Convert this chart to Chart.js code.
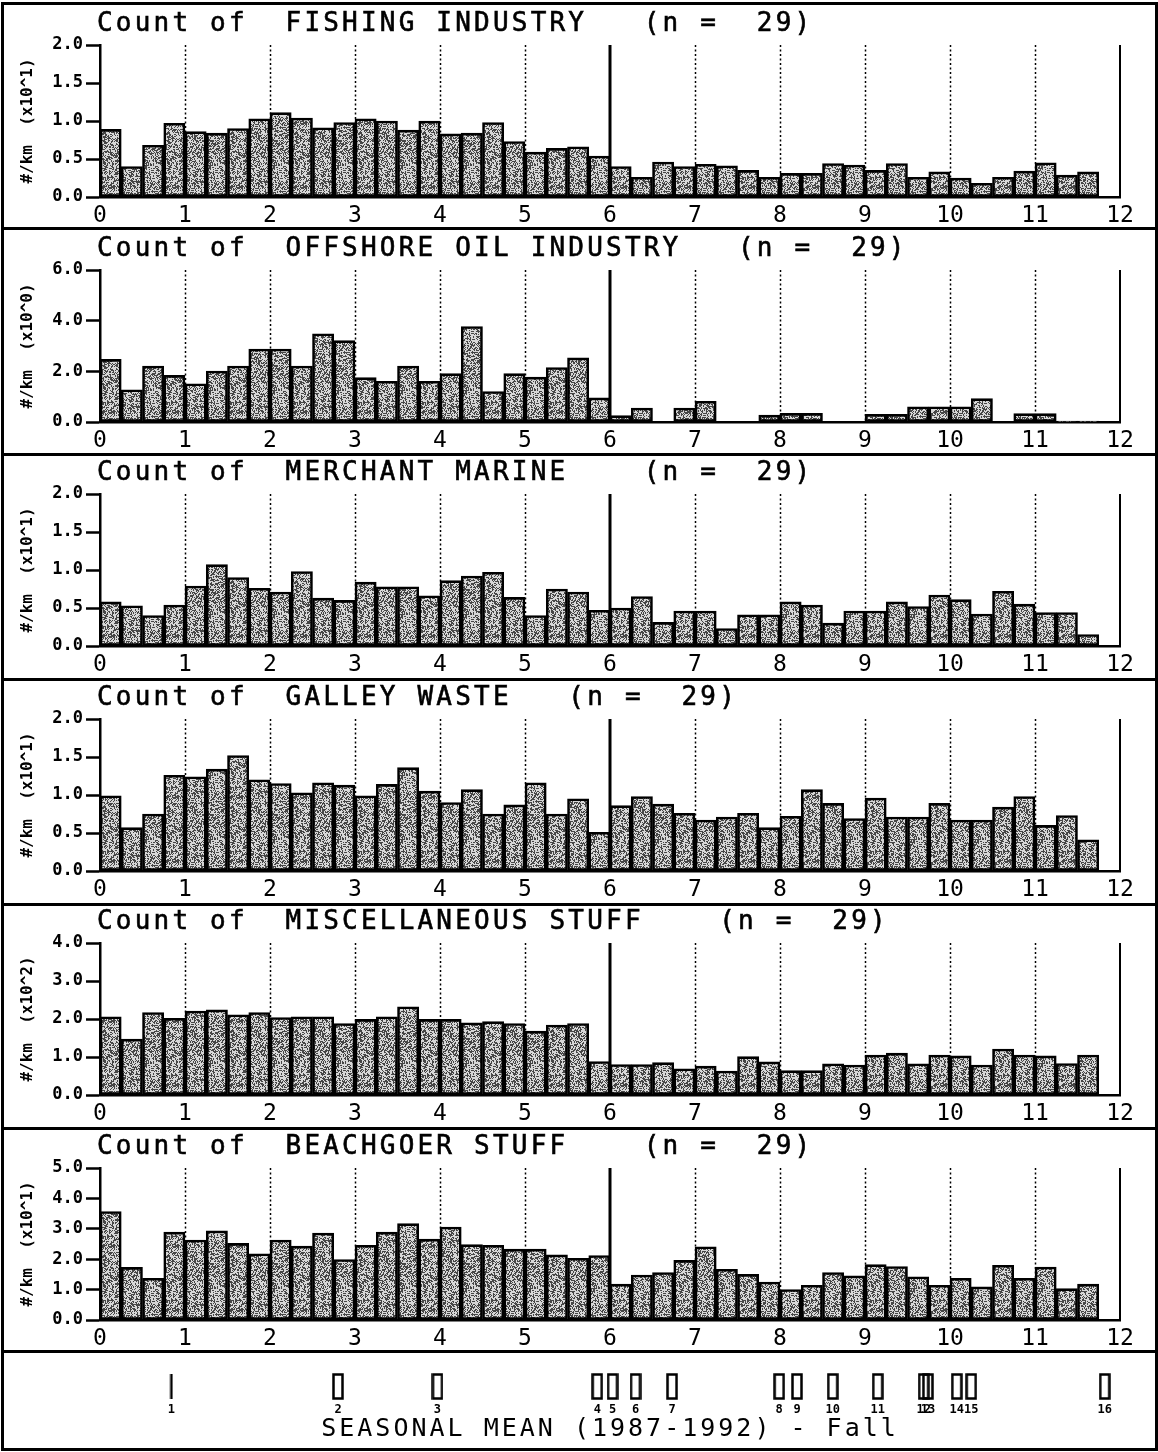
<!DOCTYPE html>
<html>
<head>
<meta charset="utf-8">
<title>Seasonal mean - Fall</title>
<script src="https://cdn.jsdelivr.net/npm/chart.js@4.4.1/dist/chart.umd.min.js"></script>
<style>
  body { margin: 0; background: #fff; }
  #page { position: relative; width: 1158px; height: 1452px; overflow: hidden; background: #fff; }
  #page canvas { position: absolute; left: 0; }
  .rule { position: absolute; left: 2px; width: 1154px; height: 3px; background: #000; z-index: 5; }
  #frame { position: absolute; left: 1px; top: 2px; width: 1151px; height: 1443px; border: 3px solid #000; z-index: 5; }
</style>
</head>
<body>
<div id="page"><div id="frame"></div></div>
<script>
// bin centres along the x axis (0.25-wide bins from 0 to 11.75)
const binCenters = [
  0.125, 0.375, 0.625, 0.875, 1.125, 1.375, 1.625, 1.875, 2.125, 2.375, 2.625, 2.875,
  3.125, 3.375, 3.625, 3.875, 4.125, 4.375, 4.625, 4.875, 5.125, 5.375, 5.625, 5.875,
  6.125, 6.375, 6.625, 6.875, 7.125, 7.375, 7.625, 7.875, 8.125, 8.375, 8.625, 8.875,
  9.125, 9.375, 9.625, 9.875, 10.125, 10.375, 10.625, 10.875, 11.125, 11.375, 11.625
];

const fishingIndustry = [
  0.89, 0.40, 0.68, 0.97, 0.86, 0.84, 0.90, 1.03, 1.11, 1.04, 0.91, 0.98,
  1.03, 1.00, 0.88, 1.00, 0.83, 0.84, 0.98, 0.73, 0.59, 0.64, 0.66, 0.54,
  0.40, 0.26, 0.46, 0.40, 0.43, 0.41, 0.35, 0.26, 0.31, 0.31, 0.44, 0.42,
  0.35, 0.44, 0.26, 0.33, 0.25, 0.18, 0.26, 0.34, 0.45, 0.29, 0.33
];
const offshoreOil = [
  2.47, 1.27, 2.21, 1.84, 1.51, 2.01, 2.21, 2.88, 2.88, 2.21, 3.48, 3.21,
  1.75, 1.61, 2.21, 1.61, 1.91, 3.77, 1.20, 1.91, 1.77, 2.15, 2.53, 0.95,
  0.25, 0.55, 0, 0.55, 0.82, 0, 0, 0.27, 0.34, 0.34, 0, 0,
  0.30, 0.30, 0.60, 0.60, 0.60, 0.92, 0, 0.33, 0.33, 0.04, 0.04
];
const merchantMarine = [
  0.58, 0.53, 0.40, 0.54, 0.79, 1.07, 0.90, 0.76, 0.71, 0.98, 0.63, 0.60,
  0.84, 0.78, 0.78, 0.66, 0.86, 0.92, 0.97, 0.64, 0.40, 0.75, 0.71, 0.47,
  0.50, 0.65, 0.31, 0.46, 0.46, 0.23, 0.41, 0.41, 0.58, 0.54, 0.30, 0.46,
  0.46, 0.58, 0.52, 0.67, 0.61, 0.42, 0.72, 0.55, 0.44, 0.44, 0.15
];
const galleyWaste = [
  0.99, 0.57, 0.75, 1.26, 1.24, 1.34, 1.52, 1.20, 1.15, 1.03, 1.16, 1.13,
  0.99, 1.14, 1.36, 1.05, 0.90, 1.07, 0.75, 0.87, 1.16, 0.75, 0.95, 0.51,
  0.86, 0.98, 0.88, 0.76, 0.67, 0.71, 0.76, 0.57, 0.72, 1.07, 0.89, 0.69,
  0.96, 0.71, 0.71, 0.89, 0.67, 0.67, 0.84, 0.98, 0.60, 0.73, 0.41
];
const miscStuff = [
  2.06, 1.47, 2.17, 2.02, 2.21, 2.24, 2.11, 2.17, 2.04, 2.06, 2.06, 1.88,
  1.99, 2.06, 2.32, 1.99, 1.99, 1.90, 1.93, 1.88, 1.68, 1.84, 1.88, 0.88,
  0.80, 0.80, 0.85, 0.69, 0.76, 0.63, 1.01, 0.87, 0.64, 0.64, 0.82, 0.79,
  1.05, 1.10, 0.82, 1.05, 1.03, 0.79, 1.21, 1.05, 1.03, 0.83, 1.05
];
const beachgoerStuff = [
  3.57, 1.73, 1.37, 2.89, 2.63, 2.93, 2.52, 2.18, 2.63, 2.43, 2.86, 1.99,
  2.46, 2.89, 3.17, 2.66, 3.06, 2.48, 2.46, 2.33, 2.33, 2.14, 2.03, 2.12,
  1.18, 1.48, 1.56, 1.96, 2.41, 1.67, 1.50, 1.25, 1.00, 1.14, 1.56, 1.45,
  1.82, 1.76, 1.42, 1.14, 1.37, 1.09, 1.80, 1.37, 1.74, 1.03, 1.18
];

const panelTitles = [
  'Count of  FISHING INDUSTRY   (n =  29)',
  'Count of  OFFSHORE OIL INDUSTRY   (n =  29)',
  'Count of  MERCHANT MARINE    (n =  29)',
  'Count of  GALLEY WASTE   (n =  29)',
  'Count of  MISCELLANEOUS STUFF    (n =  29)',
  'Count of  BEACHGOER STUFF    (n =  29)'
];
const yAxisTitles = [
  '#/km  (x10^1)', '#/km  (x10^0)', '#/km  (x10^1)',
  '#/km  (x10^1)', '#/km  (x10^2)', '#/km  (x10^1)'
];
const yMax = [2, 6, 2, 2, 4, 5];
const yStep = [0.5, 2, 0.5, 0.5, 1, 1];
const xTicks = [0, 1, 2, 3, 4, 5, 6, 7, 8, 9, 10, 11, 12];

// station markers in the bottom strip
const markerPositions = [0.84, 2.8, 3.97, 5.85, 6.03, 6.3, 6.73, 7.99, 8.2, 8.62, 9.15, 9.69, 9.74, 10.08, 10.25, 11.82];
const markerLabels = ['1', '2', '3', '4', '5', '6', '7', '8', '9', '10', '11', '12', '13', '14', '15', '16'];

const panelSeries = [fishingIndustry, offshoreOil, merchantMarine, galleyWaste, miscStuff, beachgoerStuff];

// layout
const W = 1158;
const panelTops = [0, 225, 449, 674, 898, 1123];
const panelH = 225;
const ruleTops = [227, 453, 678, 903, 1127, 1350];
const dottedAt = [1, 2, 3, 4, 5, 7, 8, 9, 10, 11];
const MONO = '"DejaVu Sans Mono", "Liberation Mono", monospace';

const page = document.getElementById('page');
ruleTops.forEach(t => {
  const d = document.createElement('div');
  d.className = 'rule';
  d.style.top = t + 'px';
  page.appendChild(d);
});

// grey stipple used to fill the bars
const tile = document.createElement('canvas');
tile.width = tile.height = 64;
(function buildTile() {
  const g = tile.getContext('2d');
  const img = g.createImageData(64, 64);
  for (let i = 0; i < 64 * 64; i++) {
    let h = Math.imul(i ^ 0x9e3779b9, 0x85ebca6b);
    h ^= h >>> 13;
    h = Math.imul(h, 0xc2b2ae35);
    h ^= h >>> 16;
    const v = ((h >>> 0) % 100) < 46 ? 70 : 215;
    img.data[i * 4] = img.data[i * 4 + 1] = img.data[i * 4 + 2] = v;
    img.data[i * 4 + 3] = 255;
  }
  g.putImageData(img, 0, 0);
})();

function stipple(ctx) {
  const chart = ctx.chart;
  if (!chart.$stipple) chart.$stipple = chart.ctx.createPattern(tile, 'repeat');
  return chart.$stipple;
}

// dotted year lines behind the bars, solid lines at 6 and 12 in front
const dividers = {
  id: 'dividers',
  beforeDatasetsDraw(chart) {
    const { ctx, chartArea: a, scales: { x } } = chart;
    ctx.save();
    ctx.strokeStyle = '#000';
    ctx.lineWidth = 1.5;
    ctx.setLineDash([2, 2.5]);
    dottedAt.forEach(v => {
      const px = Math.round(x.getPixelForValue(v)) + 0.5;
      ctx.beginPath();
      ctx.moveTo(px, a.top);
      ctx.lineTo(px, a.bottom);
      ctx.stroke();
    });
    ctx.restore();
  },
  afterDatasetsDraw(chart) {
    const { ctx, chartArea: a, scales: { x } } = chart;
    ctx.save();
    ctx.strokeStyle = '#000';
    [[6, 3], [12, 2]].forEach(([v, w]) => {
      const px = Math.round(x.getPixelForValue(v));
      ctx.lineWidth = w;
      ctx.beginPath();
      ctx.moveTo(px, a.top);
      ctx.lineTo(px, a.bottom);
      ctx.stroke();
    });
    ctx.restore();
  }
};

const panelTitle = {
  id: 'panelTitle',
  afterDraw(chart, args, opts) {
    const ctx = chart.ctx;
    ctx.save();
    ctx.font = '26px ' + MONO;
    ctx.letterSpacing = '3.2px';
    ctx.fillStyle = '#000';
    ctx.strokeStyle = '#000';
    ctx.lineWidth = 0.6;
    ctx.textBaseline = 'middle';
    ctx.fillText(opts.text, 97, 24);
    ctx.strokeText(opts.text, 97, 24);
    ctx.restore();
  }
};

function makeCanvas(top, h) {
  const c = document.createElement('canvas');
  c.width = W;
  c.height = h;
  c.style.top = top + 'px';
  c.style.width = W + 'px';
  c.style.height = h + 'px';
  page.appendChild(c);
  return c;
}

panelSeries.forEach((values, k) => {
  const canvas = makeCanvas(panelTops[k], panelH);
  new Chart(canvas, {
    type: 'bar',
    data: {
      datasets: [{
        data: binCenters.map((x, i) => ({ x: x, y: values[i] })),
        backgroundColor: stipple,
        borderColor: '#000',
        borderWidth: 2.6,
        borderSkipped: false,
        barPercentage: 1,
        categoryPercentage: 1
      }]
    },
    options: {
      responsive: false,
      animation: false,
      devicePixelRatio: 1,
      layout: { padding: { top: 45, right: 38, left: 0, bottom: 0 } },
      plugins: {
        legend: { display: false },
        tooltip: { enabled: false },
        panelTitle: { text: panelTitles[k] }
      },
      scales: {
        x: {
          type: 'linear',
          min: 0,
          max: 12,
          offset: false,
          afterFit(s) { s.height = 28; },
          afterBuildTicks(s) { s.ticks = xTicks.map(v => ({ value: v })); },
          ticks: {
            color: '#000',
            padding: 5,
            maxRotation: 0,
            autoSkip: false,
            font: { family: MONO, size: 23 }
          },
          grid: { display: false, drawTicks: false, offset: false },
          border: { color: '#000', width: 2.5 }
        },
        y: {
          min: 0,
          max: yMax[k],
          afterFit(s) { s.width = 100; },
          ticks: {
            stepSize: yStep[k],
            color: '#000',
            padding: 3,
            callback: v => Number(v).toFixed(1),
            font: { family: MONO, size: 17, weight: 'bold' }
          },
          grid: {
            drawOnChartArea: false,
            drawTicks: true,
            tickLength: 14,
            tickWidth: 2.5,
            tickColor: '#000',
            color: '#000'
          },
          border: { color: '#000', width: 2.5 },
          title: {
            display: true,
            text: yAxisTitles[k],
            color: '#000',
            font: { family: MONO, size: 16, weight: 'bold' },
            padding: { top: 18, bottom: 0 }
          }
        }
      }
    },
    plugins: [dividers, panelTitle]
  });
});

// bottom strip: markers with numbers and the caption
function markerImage(w) {
  const c = document.createElement('canvas');
  c.width = w + 3;
  c.height = 27;
  const g = c.getContext('2d');
  g.strokeStyle = '#000';
  g.lineWidth = 2.5;
  if (w <= 2) {
    g.beginPath();
    g.moveTo(c.width / 2, 1);
    g.lineTo(c.width / 2, 26);
    g.stroke();
  } else {
    g.strokeRect(1.5, 1.5, w, 24);
  }
  return c;
}
const rectMark = markerImage(9);
const lineMark = markerImage(1);

const markerText = {
  id: 'markerText',
  beforeDraw(chart) {
    chart.ctx.save();
    chart.ctx.letterSpacing = '3px';
  },
  afterDraw(chart) {
    chart.ctx.restore();
    const { ctx, scales: { x, y } } = chart;
    ctx.save();
    ctx.fillStyle = '#000';
    ctx.font = 'bold 12px ' + MONO;
    ctx.textAlign = 'center';
    ctx.textBaseline = 'middle';
    markerLabels.forEach((t, i) => {
      ctx.fillText(t, x.getPixelForValue(markerPositions[i]), y.getPixelForValue(0.5) + 23);
    });
    ctx.restore();
  }
};

const bottomCanvas = makeCanvas(1352, 96);
new Chart(bottomCanvas, {
  type: 'scatter',
  data: {
    datasets: [{
      data: markerPositions.map(p => ({ x: p, y: 0.5 })),
      pointStyle: ctx => (ctx.dataIndex === 0 ? lineMark : rectMark),
      pointRadius: 10
    }]
  },
  options: {
    responsive: false,
    animation: false,
    devicePixelRatio: 1,
    layout: { padding: { top: 0, right: 38, left: 100, bottom: 0 } },
    plugins: { legend: { display: false }, tooltip: { enabled: false } },
    scales: {
      x: {
        type: 'linear',
        min: 0,
        max: 12,
        ticks: { display: false },
        grid: { display: false, drawTicks: false },
        border: { display: false },
        title: {
          display: true,
          text: 'SEASONAL MEAN (1987-1992) - Fall',
          color: '#000',
          font: { family: MONO, size: 25 },
          padding: { top: 4, bottom: 4 }
        }
      },
      y: { display: false, min: 0, max: 1 }
    }
  },
  plugins: [markerText]
});
</script>
</body>
</html>
